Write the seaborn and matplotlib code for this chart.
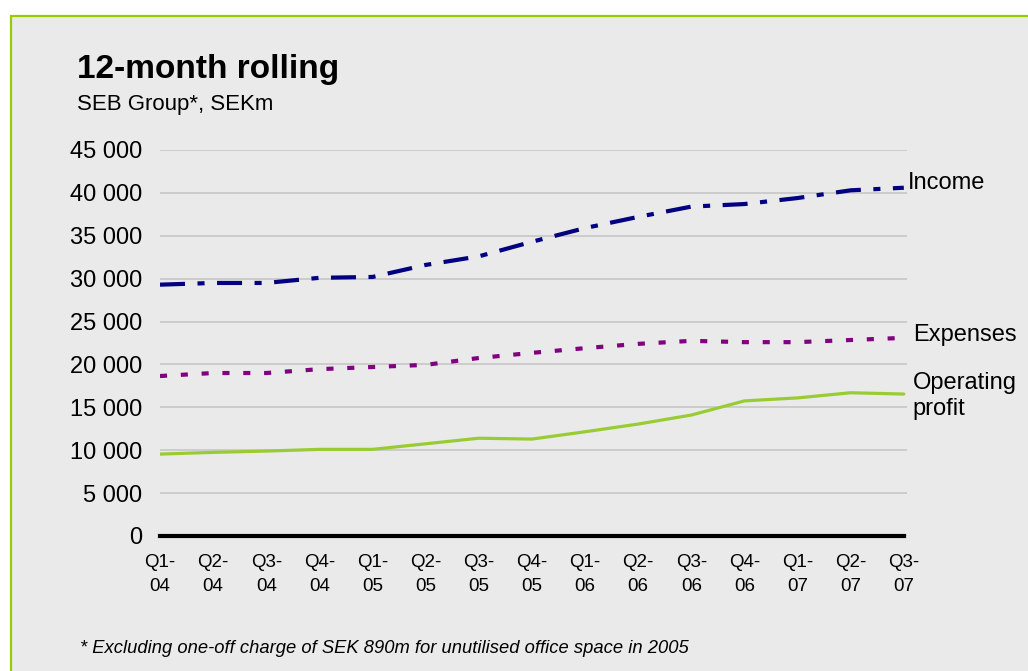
import matplotlib
matplotlib.use("Agg")
import matplotlib.pyplot as plt
from matplotlib.patches import Rectangle
import seaborn as sns
import pandas as pd

# Quarter labels (12-month rolling figures, SEKm)
quarters = ["Q1-\n04", "Q2-\n04", "Q3-\n04", "Q4-\n04",
            "Q1-\n05", "Q2-\n05", "Q3-\n05", "Q4-\n05",
            "Q1-\n06", "Q2-\n06", "Q3-\n06", "Q4-\n06",
            "Q1-\n07", "Q2-\n07", "Q3-\n07"]

income = [29300, 29500, 29500, 30100, 30200, 31600, 32600, 34300,
          35900, 37200, 38400, 38700, 39400, 40300, 40600]
expenses = [18650, 19000, 19000, 19450, 19700, 19950, 20750, 21350,
            21900, 22400, 22750, 22600, 22600, 22850, 23100]
operating_profit = [9550, 9750, 9900, 10100, 10100, 10750, 11400, 11300,
                    12150, 13050, 14100, 15750, 16100, 16700, 16550]

y_ticks = [0, 5000, 10000, 15000, 20000, 25000, 30000, 35000, 40000, 45000]
y_tick_labels = ["0", "5 000", "10 000", "15 000", "20 000", "25 000",
                 "30 000", "35 000", "40 000", "45 000"]

series_names = ["Income", "Expenses", "Operating\nprofit"]

BG = "#EAEAEA"
BORDER = "#99CC00"
NAVY = "#000080"
PURPLE = "#800080"
GREEN = "#99CC33"

sns.set_theme(style="white")
plt.rcParams["font.family"] = ["Liberation Sans", "DejaVu Sans"]

W, H = 1028, 671
fig = plt.figure(figsize=(W / 100, H / 100), dpi=100, facecolor="white")

# Panel background with green frame on the top and left
fig.patches.append(Rectangle((10.5 / W, -0.05), 1.1, 1 - 16 / H + 0.05,
                             transform=fig.transFigure, facecolor=BG,
                             edgecolor=BORDER, linewidth=1.6, zorder=-5))

ax = fig.add_axes([160 / W, 1 - 536 / H, 747 / W, 386 / H])
ax.set_zorder(2)
ax.patch.set_alpha(0)

pos = list(range(len(quarters)))
df = pd.DataFrame({"pos": pos, "Income": income, "Expenses": expenses,
                   "Operating profit": operating_profit})

sns.lineplot(data=df, x="pos", y="Income", ax=ax, color=NAVY, lw=3,
             linestyle=(0, (6, 3, 1.7, 3)), zorder=4)
sns.lineplot(data=df, x="pos", y="Expenses", ax=ax, color=PURPLE, lw=3,
             linestyle=(0, (1.7, 3.3)), zorder=4)
sns.lineplot(data=df, x="pos", y="Operating profit", ax=ax, color=GREEN,
             lw=2.3, zorder=4)

ax.set_xlim(0, len(quarters) - 1 + 0.06)
ax.set_ylim(0, 45000)
ax.set_yticks(y_ticks, y_tick_labels)
ax.set_xticks(pos, quarters)
ax.set_xlabel("")
ax.set_ylabel("")

ax.yaxis.grid(True, color="#C3C3C3", lw=1.1)
ax.set_axisbelow(True)
for s in ["top", "right", "left"]:
    ax.spines[s].set_visible(False)
ax.spines["bottom"].set_color("black")
ax.spines["bottom"].set_linewidth(3)
ax.spines["bottom"].set_bounds(0, len(quarters) - 1)
ax.spines["bottom"].set_zorder(5)

ax.tick_params(axis="y", length=0, pad=13, labelsize=17, labelcolor="black")
ax.tick_params(axis="x", length=0, pad=13, labelsize=13.5, labelcolor="black")
for t in ax.get_xticklabels():
    t.set_linespacing(1.5)

# End-of-line series labels
ends = [(income[-1], (3, 3.5)), (expenses[-1], (6.5, 2)),
        (operating_profit[-1], (6.5, -1.5))]
for name, (yv, off) in zip(series_names, ends):
    ax.annotate(name, xy=(pos[-1], yv), xytext=off, textcoords="offset points",
                ha="left", va="center", fontsize=17, color="black",
                linespacing=1.2, annotation_clip=False)

fig.text(77 / W, 1 - 78 / H, "12-month rolling", fontsize=24,
         fontweight="bold", ha="left", va="baseline", color="black")
fig.text(77 / W, 1 - 110 / H, "SEB Group*, SEKm", fontsize=16,
         ha="left", va="baseline", color="black")
fig.text(80 / W, 1 - 653 / H,
         "* Excluding one-off charge of SEK 890m for unutilised office space in 2005",
         fontsize=13.2, style="italic", ha="left", va="baseline", color="black")

fig.savefig("out.png", dpi=100, facecolor="white")
